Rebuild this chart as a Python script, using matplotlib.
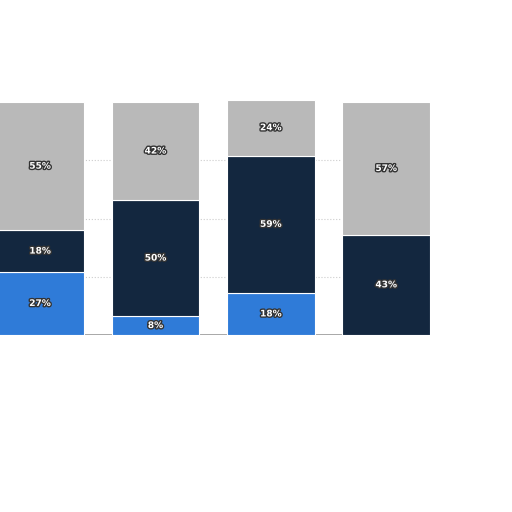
import matplotlib.pyplot as plt
import matplotlib.patheffects as pe
import numpy as np

groups = ['A', 'B', 'C', 'D']
blue = [27, 8, 18, 0]
navy = [18, 50, 59, 43]
gray = [55, 42, 24, 57]

colors = ['#2f7bd8', '#13273f', '#b9b9b9']

fig = plt.figure(figsize=(5.12, 5.12), dpi=100)
ax = fig.add_axes([0.0, 0.346, 0.84, 0.459])

x = np.arange(len(groups))
bottom = np.zeros(len(groups))
stroke = [pe.withStroke(linewidth=2, foreground='#333333')]
for vals, c in zip([blue, navy, gray], colors):
    vals = np.array(vals, dtype=float)
    ax.bar(x, vals, 0.76, bottom=bottom, color=c, edgecolor='white', linewidth=0.8, zorder=2)
    for xi, b, v in zip(x, bottom, vals):
        if v > 0:
            ax.text(xi, b + v / 2, f'{int(v)}%', ha='center', va='center', color='white',
                    fontsize=6.5, fontweight='bold', path_effects=stroke, zorder=3)
    bottom += vals

ax.set_xlim(-0.347, 3.38)
ax.set_ylim(0, 101)
ax.set_yticks([25, 50, 75])
ax.grid(axis='y', color='#cccccc', linestyle=':', linewidth=0.8, zorder=0)
ax.set_xticks([])
ax.tick_params(left=False, labelleft=False)
for s in ax.spines.values():
    s.set_visible(False)
ax.axhline(0, color='#999999', linewidth=1.2, zorder=1)

plt.savefig('out.png', dpi=100)
